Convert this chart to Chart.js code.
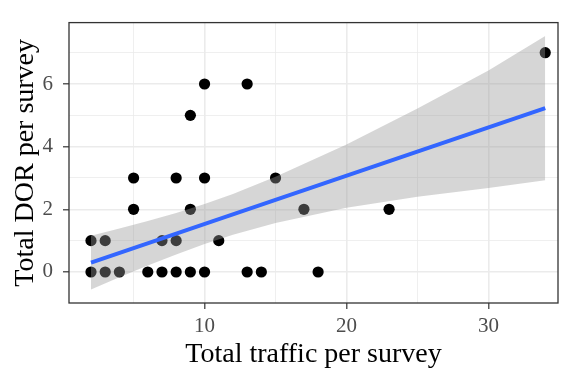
<!DOCTYPE html>
<html>
<head>
<meta charset="utf-8">
<script src="https://cdn.jsdelivr.net/npm/chart.js@4.4.0/dist/chart.umd.min.js"></script>
<style>
  html, body { margin: 0; padding: 0; background: #fff; }
</style>
</head>
<body>
<canvas id="chartDor" width="564" height="370"></canvas>
<script>
// --- DATOS ---
const trafficX = [2, 3, 4, 6, 7, 8, 9, 10, 13, 14, 18,
                  2, 3, 7, 8, 11,
                  5, 9, 17, 23,
                  5, 8, 10, 15,
                  9,
                  10, 13,
                  34];
const dorY = [0, 0, 0, 0, 0, 0, 0, 0, 0, 0, 0,
              1, 1, 1, 1, 1,
              2, 2, 2, 2,
              3, 3, 3, 3,
              5,
              6, 6,
              7];

// recta ajustada (extremos)
const fitX = [2, 34];
const fitY = [0.30, 5.23];

// banda de confianza
const bandX     = [2, 4, 6, 8, 10, 12, 15, 20, 25, 30, 34];
const bandUpper = [1.16, 1.39, 1.63, 1.88, 2.17, 2.49, 3.04, 4.07, 5.22, 6.43, 7.53];
const bandLower = [-0.56, -0.17, 0.21, 0.56, 0.89, 1.19, 1.56, 2.05, 2.40, 2.68, 2.93];

const xTicksMajor = [10, 20, 30];
const yTicksMajor = [0, 2, 4, 6];

const toXY = (xs, ys) => xs.map((x, i) => ({ x: x, y: ys[i] }));

const serif = "'Liberation Serif', 'DejaVu Serif', serif";
const gridCol = '#EBEBEB';
const frameCol = '#333333';

// marco del panel (theme_bw)
const panelBorder = {
    id: 'panelBorder',
    afterDatasetsDraw(chart) {
        const a = chart.chartArea;
        const ctx = chart.ctx;
        ctx.save();
        ctx.strokeStyle = frameCol;
        ctx.lineWidth = 1.3;
        ctx.strokeRect(a.left, a.top, a.right - a.left, a.bottom - a.top);
        ctx.restore();
    }
};

new Chart(document.getElementById('chartDor'), {
    type: 'line',
    data: {
        datasets: [
            {
                label: 'puntos',
                data: toXY(trafficX, dorY),
                showLine: false,
                pointRadius: 5.6,
                pointBackgroundColor: '#000',
                pointBorderWidth: 0,
                order: 3
            },
            {
                label: 'banda sup',
                data: toXY(bandX, bandUpper),
                borderWidth: 0,
                pointRadius: 0,
                tension: 0,
                fill: '+1',
                backgroundColor: 'rgba(153,153,153,0.4)',
                order: 2
            },
            {
                label: 'banda inf',
                data: toXY(bandX, bandLower),
                borderWidth: 0,
                pointRadius: 0,
                tension: 0,
                fill: false,
                order: 2
            },
            {
                label: 'ajuste',
                data: toXY(fitX, fitY),
                borderColor: '#3366FF',
                borderWidth: 4,
                pointRadius: 0,
                fill: false,
                order: 1
            }
        ]
    },
    options: {
        responsive: false,
        animation: false,
        layout: { padding: { top: 8, right: 6, left: 0, bottom: 0 } },
        plugins: { legend: { display: false }, tooltip: { enabled: false } },
        scales: {
            x: {
                type: 'linear',
                min: 0.45,
                max: 34.9,
                afterFit: s => { s.height = 67; },
                border: { display: false },
                grid: {
                    color: c => gridCol,
                    lineWidth: c => xTicksMajor.includes(c.tick.value) ? 1.6 : 0.8,
                    tickColor: c => xTicksMajor.includes(c.tick.value) ? frameCol : 'rgba(0,0,0,0)',
                    tickLength: 6,
                    tickWidth: 1.2
                },
                ticks: {
                    stepSize: 5,
                    includeBounds: false,
                    autoSkip: false,
                    maxRotation: 0,
                    padding: 5,
                    color: '#4D4D4D',
                    font: { family: serif, size: 21 },
                    callback: v => xTicksMajor.includes(v) ? String(v) : ''
                },
                title: {
                    display: true,
                    text: 'Total traffic per survey',
                    color: '#000',
                    font: { family: serif, size: 28, lineHeight: 1.1 },
                    padding: { top: 0, bottom: 0 }
                }
            },
            y: {
                min: -0.99,
                max: 7.96,
                afterFit: s => { s.width = 69; },
                border: { display: false },
                grid: {
                    color: c => gridCol,
                    lineWidth: c => yTicksMajor.includes(c.tick.value) ? 1.6 : 0.8,
                    tickColor: c => yTicksMajor.includes(c.tick.value) ? frameCol : 'rgba(0,0,0,0)',
                    tickLength: 6,
                    tickWidth: 1.2
                },
                ticks: {
                    stepSize: 1,
                    includeBounds: false,
                    autoSkip: false,
                    padding: 10,
                    color: '#4D4D4D',
                    font: { family: serif, size: 21 },
                    callback: v => yTicksMajor.includes(v) ? String(v) : ''
                },
                title: {
                    display: true,
                    text: 'Total DOR per survey',
                    color: '#000',
                    font: { family: serif, size: 28, lineHeight: 1.1 },
                    padding: { top: 10, bottom: 0 }
                }
            }
        }
    },
    plugins: [panelBorder]
});
</script>
</body>
</html>
